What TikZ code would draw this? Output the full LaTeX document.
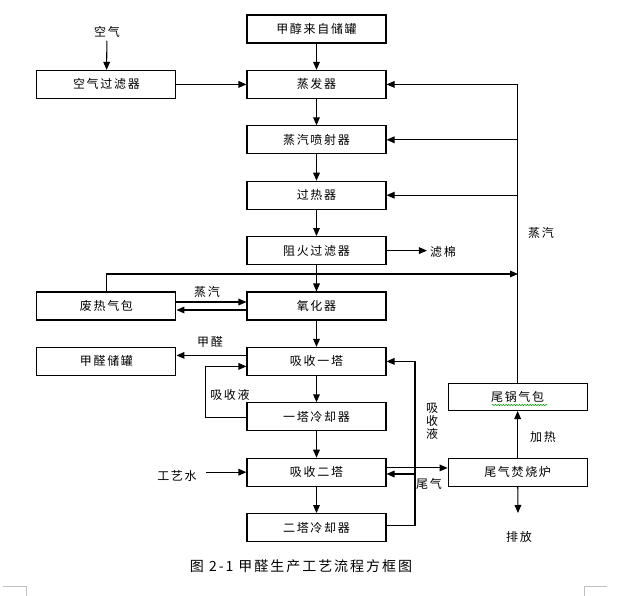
\documentclass[tikz,border=0pt]{standalone}
\usepackage{fontspec}
\newfontfamily\cjk[LetterSpace=14]{Noto Sans CJK SC}
\usetikzlibrary{positioning}
\usetikzlibrary{arrows.meta}
\usetikzlibrary{decorations.pathmorphing}

\begin{document}
\begin{tikzpicture}[x=0.75pt,y=-0.75pt,line width=0.8pt,
			node distance=19.75pt,
			every node/.style={font=\cjk\fontsize{9}{12}\selectfont},
			Box/.style={rectangle,draw=black,minimum width=104.25pt,minimum height=21pt,inner sep=1pt},
			Txt/.style={inner sep=2pt,align=center},
			Arr/.style={-{Triangle[length=6pt,width=5pt]}},
			]

			\useasboundingbox (0,0) rectangle (640,596);

			%main column
			\node[Box] (src) at (316.5,29) {甲醇来自储罐};
			\node[Box] (evap) [below=of src] {蒸发器};
			\node[Box] (jet) [below=of evap] {蒸汽喷射器};
			\node[Box] (heat) [below=of jet] {过热器};
			\node[Box] (flame) [below=of heat] {阻火过滤器};
			\node[Box] (oxid) [below=of flame] {氧化器};
			\node[Box] (absA) [below=of oxid] {吸收一塔};
			\node[Box] (coolA) [below=of absA] {一塔冷却器};
			\node[Box] (absB) [below=of coolA] {吸收二塔};
			\node[Box] (coolB) [below=of absB] {二塔冷却器};

			%side boxes
			\node[Box] (airf) [left=52.5pt of evap] {空气过滤器};
			\node[Box] (whb) [left=52.5pt of oxid] {废热气包};
			\node[Box] (store) [left=52.5pt of absA] {甲醛储罐};
			\node[Box] (burn) [right=45.8pt of absB] {尾气焚烧炉};
			\node[Box,minimum height=20.25pt] (tail) [above=35pt of burn] {尾锅气包};

			%labels
			\node[Txt] (air) at (107,32) {空气};
			\node[Txt] (cotton) at (443,252) {滤棉};
			\node[Txt] (steam) at (541,233) {蒸汽};
			\node[Txt] (steamB) at (207,292) {蒸汽};
			\node[Txt] (hcho) at (210,342) {甲醛};
			\node[Txt] (liqA) at (230,395) {吸收液};
			\node[Txt] (water) at (177,476) {工艺水};
			\node[Txt,font=\cjk\fontsize{9}{9.75}\selectfont] (liqB) at (432,421) {吸\\收\\液};
			\node[Txt] (offgas) at (429,484) {尾气};
			\node[Txt] (heatL) at (543,437) {加热};
			\node[Txt] (vent) at (519,537) {排放};
			\node[Txt,font=\cjk\fontsize{10.5}{12}\selectfont] (caption) at (301,566) {图 2-1 甲醛生产工艺流程方框图};

			\coordinate (rl) at (415,474);
			\coordinate (tap) at (518,274);
			\coordinate (out) at (518,513);

			%flow down
			\foreach \a/\b in {src/evap,evap/jet,jet/heat,heat/flame,flame/oxid,oxid/absA,absA/coolA,coolA/absB,absB/coolB}
			{
				\draw[Arr] (\a) -- (\b);
			}

			%air
			\draw[Arr] (air) -- (airf);
			\draw[Arr] (airf) -- (evap);
			\draw[Arr] (flame) -- (flame.east -| cotton.west);

			%steam
			\draw[Arr] (whb.north) |- (tap);
			\draw[Arr] (tail.north) |- (evap.east);
			\draw[Arr] (tail.north |- jet.east) -- (jet.east);
			\draw[Arr] (tail.north |- heat.east) -- (heat.east);
			\draw[Arr] ([yshift=3pt]whb.east) -- ([yshift=3pt]oxid.west);
			\draw[Arr] ([yshift=-3pt]oxid.west) -- ([yshift=-3pt]whb.east);

			%absorption
			\draw[Arr] ([yshift=4.5pt]absA.west) -- ([yshift=4.5pt]store.east);
			\draw[Arr] ([yshift=-0.75pt]coolA.west) -- ++(-41,0) |- ([yshift=-3.75pt]absA.west);
			\draw[Arr] (water.east |- absB.west) ++(6,0) -- (absB.west);
			\draw[Arr] ([yshift=1.5pt]coolB.east) -| (rl |- absA.east) -- (absA.east);
			\draw[Arr] (rl) -- (rl -| absB.east);
			\draw[Arr] ([yshift=3.2pt]absB.east) -- ([yshift=3.2pt]burn.west);

			%tail gas
			\draw[Arr] (burn) -- (tail);
			\draw[Arr] (burn) -- (out);

			\draw[green!60!black,line width=0.4pt,decorate,decoration={snake,amplitude=0.5pt,segment length=2pt}] (492,405) -- (547,405);

			%corner marks
			\draw[gray!50,line width=0.5pt] (3,586.5) -- (26.7,586.5) -- (26.7,596);
			\draw[gray!50,line width=0.5pt] (607,586.5) -- (584,586.5) -- (584,596);

\end{tikzpicture}
\end{document}
